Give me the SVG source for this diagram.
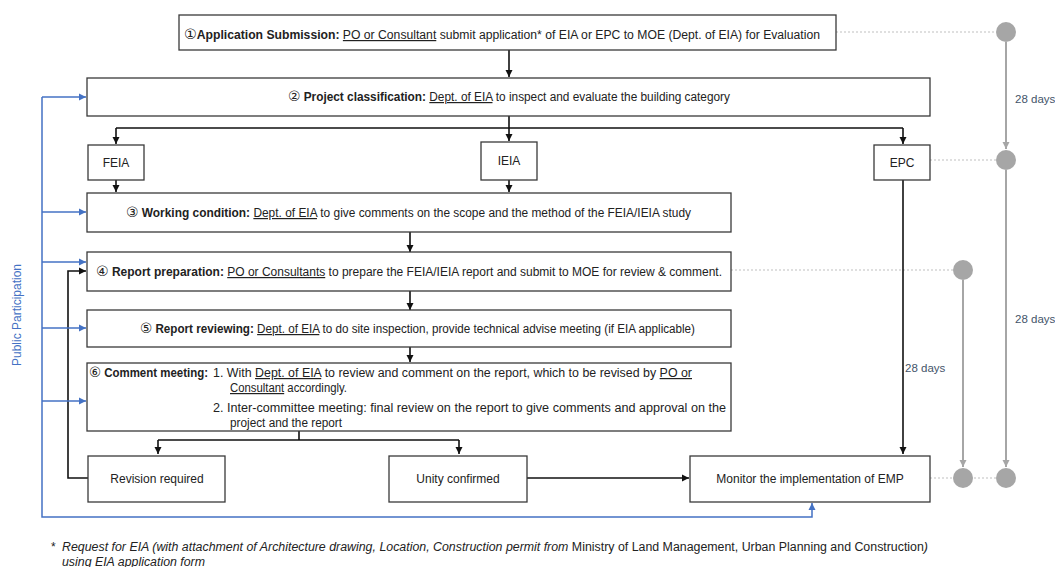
<svg xmlns="http://www.w3.org/2000/svg" width="1055" height="567" viewBox="0 0 1055 567">
<style>
.box{fill:#fff;stroke:#3a3a3a;stroke-width:1.3}
.t{font-family:"Liberation Sans","DejaVu Sans",sans-serif;font-size:12px;fill:#222}
.b{font-weight:bold}
.n{font-family:"DejaVu Sans",sans-serif;font-size:14px}
.u{text-decoration:underline}
.c{text-anchor:middle}
.ln{fill:none;stroke:#111;stroke-width:1.6}
.bl{fill:none;stroke:#4472C4;stroke-width:1.5}
.gr{fill:none;stroke:#A6A6A6;stroke-width:2}
.dot{fill:none;stroke:#BFBFBF;stroke-width:1;stroke-dasharray:2 2}
.circ{fill:#A6A6A6}
.days{font-family:"Liberation Sans",sans-serif;font-size:11.5px;fill:#44546A}
.foot{font-family:"Liberation Sans",sans-serif;font-size:12px;fill:#222}
</style>
<defs>
<marker id="ak" markerWidth="8" markerHeight="8" refX="7" refY="4" orient="auto" markerUnits="userSpaceOnUse"><path d="M0,0.5 L7,4 L0,7.5 Z" fill="#111"/></marker>
<marker id="ab" markerWidth="8" markerHeight="8" refX="7" refY="4" orient="auto" markerUnits="userSpaceOnUse"><path d="M0,0.5 L7,4 L0,7.5 Z" fill="#4472C4"/></marker>
<marker id="ag" markerWidth="8" markerHeight="8" refX="7" refY="4" orient="auto" markerUnits="userSpaceOnUse"><path d="M0,0.5 L7,4 L0,7.5 Z" fill="#A6A6A6"/></marker>
</defs>

<g id="connectors">
<path class="dot" d="M836,32 H996"/>
<path class="dot" d="M930,160 H996"/>
<path class="dot" d="M731,270 H953"/>
<path class="dot" d="M930,478 H1006"/>
<path class="gr" d="M1006,42 V149" marker-end="url(#ag)"/>
<path class="gr" d="M1006,170 V467" marker-end="url(#ag)"/>
<path class="gr" d="M963,280 V467" marker-end="url(#ag)"/>
<path class="ln" d="M509,50 V77" marker-end="url(#ak)"/>
<path class="ln" d="M509,116 V128 M116,128 H903"/>
<path class="ln" d="M116,128 V144" marker-end="url(#ak)"/>
<path class="ln" d="M509,128 V141" marker-end="url(#ak)"/>
<path class="ln" d="M903,128 V144" marker-end="url(#ak)"/>
<path class="ln" d="M116,180 V192" marker-end="url(#ak)"/>
<path class="ln" d="M509,180 V192" marker-end="url(#ak)"/>
<path class="ln" d="M410,232 V252" marker-end="url(#ak)"/>
<path class="ln" d="M410,291 V310" marker-end="url(#ak)"/>
<path class="ln" d="M410,347 V362" marker-end="url(#ak)"/>
<path class="ln" d="M299,431 V440 M158,440 H459"/>
<path class="ln" d="M158,440 V454" marker-end="url(#ak)"/>
<path class="ln" d="M459,440 V454" marker-end="url(#ak)"/>
<path class="ln" d="M527,478 H689" marker-end="url(#ak)"/>
<path class="ln" d="M903,180 V454" marker-end="url(#ak)"/>
<path class="ln" d="M88,478 H68 V271 H86" marker-end="url(#ak)"/>
<path class="bl" d="M42,97 V517 H812 V503" marker-end="url(#ab)"/>
<path class="bl" d="M42,97 H86" marker-end="url(#ab)"/>
<path class="bl" d="M42,212 H86" marker-end="url(#ab)"/>
<path class="bl" d="M42,262 H86" marker-end="url(#ab)"/>
<path class="bl" d="M42,328 H86" marker-end="url(#ab)"/>
<path class="bl" d="M42,401 H86" marker-end="url(#ab)"/>
</g>

<g id="timeline">
<circle class="circ" cx="1006" cy="32" r="10"/>
<circle class="circ" cx="1006" cy="160" r="10"/>
<circle class="circ" cx="963" cy="270" r="10"/>
<circle class="circ" cx="963" cy="478" r="10"/>
<circle class="circ" cx="1006" cy="478" r="10"/>
<text class="days" x="1015" y="103">28 days</text>
<text class="days" x="1015" y="323">28 days</text>
<text class="days" x="905" y="372">28 days</text>
</g>

<g id="n1"><rect class="box" x="179" y="15" width="657" height="35"/>
<text class="t" x="184" y="39" textLength="636" lengthAdjust="spacingAndGlyphs"><tspan class="n">①</tspan><tspan class="b">Application Submission:</tspan> <tspan class="u">PO or Consultant</tspan> submit application* of EIA or EPC to MOE (Dept. of EIA) for Evaluation</text></g>

<g id="n2"><rect class="box" x="87" y="78" width="843" height="38"/>
<text class="t" x="288" y="101" textLength="442" lengthAdjust="spacingAndGlyphs"><tspan class="n">②</tspan> <tspan class="b">Project classification:</tspan> <tspan class="u">Dept. of EIA</tspan> to inspect and evaluate the building category</text></g>

<g id="feia"><rect class="box" x="88" y="145" width="56" height="35"/><text class="t c" x="116" y="167">FEIA</text></g>
<g id="ieia"><rect class="box" x="481" y="142" width="56" height="38"/><text class="t c" x="509" y="165">IEIA</text></g>
<g id="epc"><rect class="box" x="874" y="145" width="56" height="35"/><text class="t c" x="902" y="167">EPC</text></g>

<g id="n3"><rect class="box" x="87" y="193" width="644" height="39"/>
<text class="t" x="126" y="217" textLength="565" lengthAdjust="spacingAndGlyphs"><tspan class="n">③</tspan> <tspan class="b">Working condition:</tspan> <tspan class="u">Dept. of EIA</tspan> to give comments on the scope and the method of the FEIA/IEIA study</text></g>

<g id="n4"><rect class="box" x="87" y="252" width="644" height="39"/>
<text class="t" x="96" y="276" textLength="626" lengthAdjust="spacingAndGlyphs"><tspan class="n">④</tspan> <tspan class="b">Report preparation:</tspan> <tspan class="u">PO or Consultants</tspan> to prepare the FEIA/IEIA report and submit to MOE for review &amp; comment.</text></g>

<g id="n5"><rect class="box" x="87" y="310" width="644" height="37"/>
<text class="t" x="140" y="333" textLength="555" lengthAdjust="spacingAndGlyphs"><tspan class="n">⑤</tspan> <tspan class="b">Report reviewing:</tspan> <tspan class="u">Dept. of EIA</tspan> to do site inspection, provide technical advise meeting (if EIA applicable)</text></g>

<g id="n6"><rect class="box" x="87" y="363" width="644" height="68"/>
<text class="t" x="89" y="377" textLength="119" lengthAdjust="spacingAndGlyphs"><tspan class="n">⑥</tspan> <tspan class="b">Comment meeting:</tspan></text>
<text class="t" x="213" y="377" textLength="479" lengthAdjust="spacingAndGlyphs">1. With <tspan class="u">Dept. of EIA</tspan> to review and comment on the report, which to be revised by <tspan class="u">PO or</tspan></text>
<text class="t" x="230" y="392" textLength="117" lengthAdjust="spacingAndGlyphs"><tspan class="u">Consultant</tspan> accordingly.</text>
<text class="t" x="213" y="412" textLength="513" lengthAdjust="spacingAndGlyphs">2. Inter-committee meeting: final review on the report to give comments and approval on the</text>
<text class="t" x="230" y="427" textLength="112" lengthAdjust="spacingAndGlyphs">project and the report</text></g>

<g id="rev"><rect class="box" x="88" y="456" width="137" height="46"/><text class="t c" x="157" y="483">Revision required</text></g>
<g id="unity"><rect class="box" x="389" y="456" width="138" height="46"/><text class="t c" x="458" y="483">Unity confirmed</text></g>
<g id="emp"><rect class="box" x="690" y="456" width="240" height="46"/><text class="t c" x="810" y="483">Monitor the implementation of EMP</text></g>

<text transform="translate(21,315) rotate(-90)" text-anchor="middle" style="font-family:'Liberation Sans',sans-serif;font-size:12px;fill:#4472C4">Public Participation</text>

<g id="footnote">
<text class="foot" x="51" y="551">*</text>
<text class="foot" x="62" y="551" textLength="866" lengthAdjust="spacingAndGlyphs"><tspan font-style="italic">Request for EIA (with attachment of Architecture drawing, Location, Construction permit from</tspan> Ministry of Land Management, Urban Planning and Construction<tspan font-style="italic">)</tspan></text>
<text class="foot" x="62" y="566" font-style="italic" textLength="143" lengthAdjust="spacingAndGlyphs">using EIA application form</text>
</g>
</svg>
